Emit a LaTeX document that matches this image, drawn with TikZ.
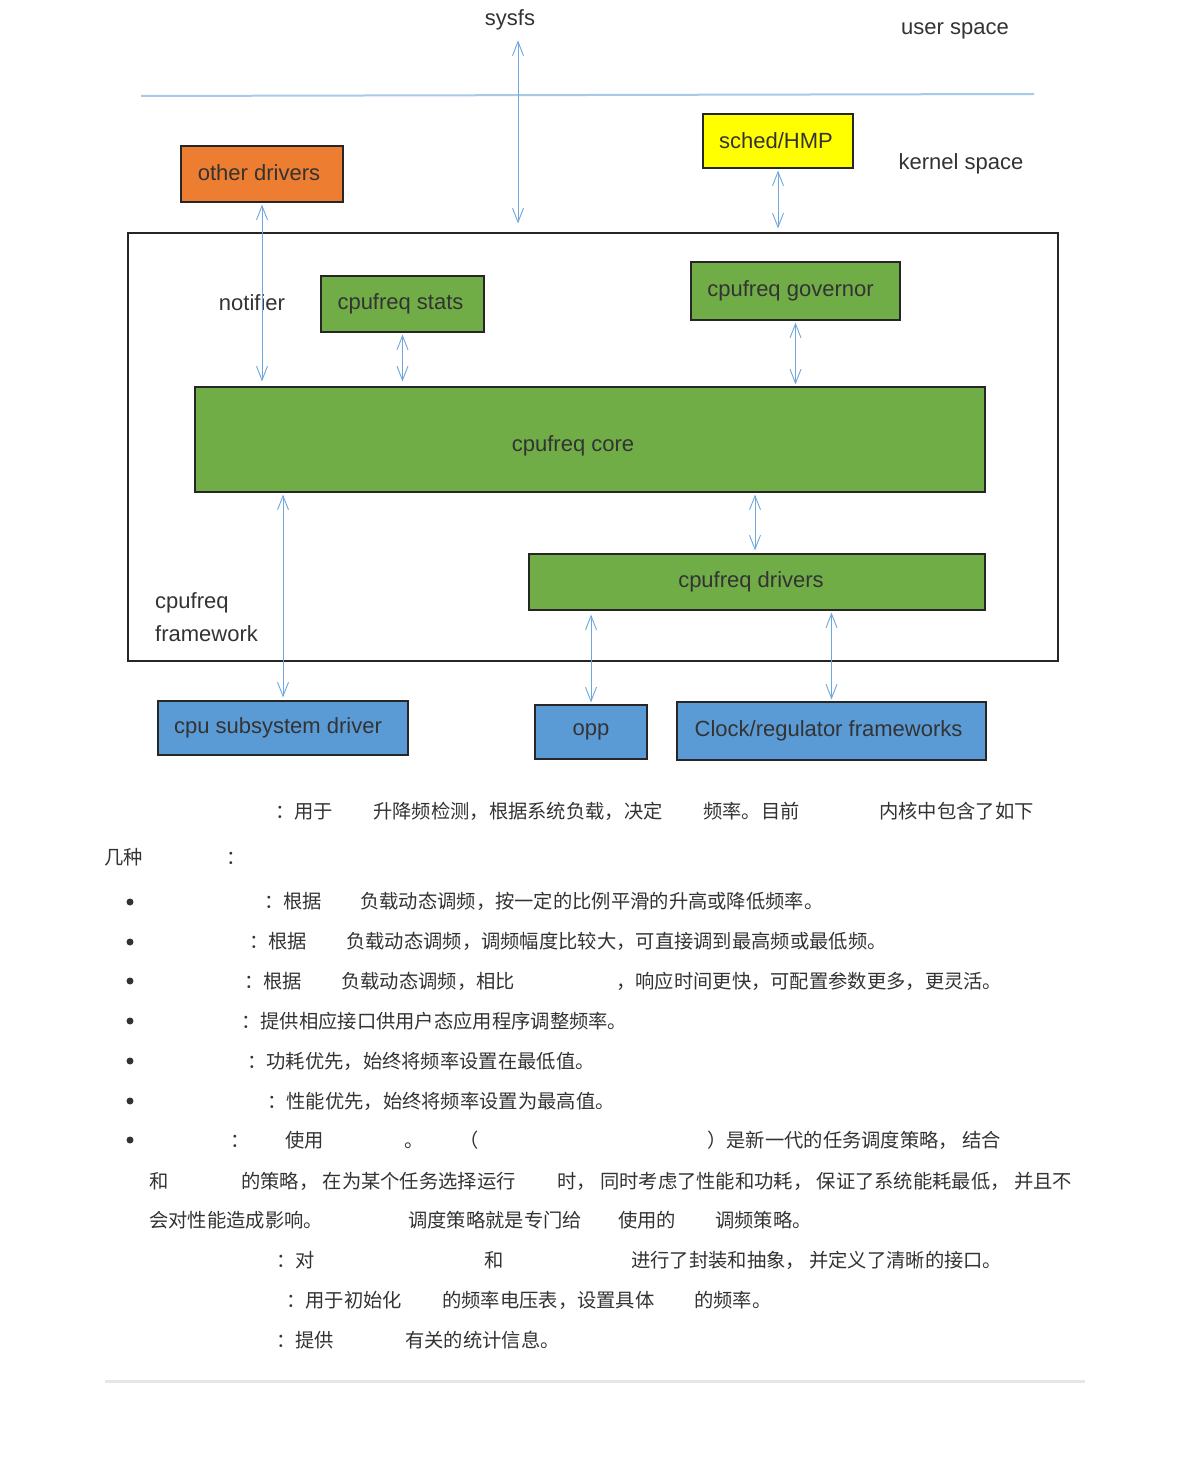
\documentclass[tikz,border=0pt]{standalone}
\usepackage{fontspec}
\setmainfont{Liberation Sans}
\newfontfamily\cjkfont{Noto Sans CJK SC}
\usetikzlibrary{arrows.meta}
\definecolor{textc}{HTML}{333333}
\definecolor{arrowc}{HTML}{6FA6DC}
\definecolor{sepc}{HTML}{A9C9EA}
\definecolor{greenc}{HTML}{70AD47}
\definecolor{bluec}{HTML}{5B9BD5}
\definecolor{orangec}{HTML}{ED7D31}
\definecolor{yellowc}{HTML}{FFFF00}
\definecolor{grayline}{HTML}{E6E6E6}
\newcommand{\diagfont}{\fontsize{22}{33}\selectfont}
\newcommand{\cnfont}{\cjkfont\fontsize{19.3}{22}\selectfont}
\tikzset{
  box/.style={draw=black!85, line width=1.2pt, inner sep=0pt, text=textc, font=\diagfont},
  lbl/.style={inner sep=0pt, text=textc, font=\diagfont},
  dbl/.style={draw=arrowc, line width=0.9pt,
    arrows={Straight Barb[length=14pt,width=11pt,line width=0.9pt]-Straight Barb[length=14pt,width=11pt,line width=0.9pt]}},
  cn/.style={anchor=base west, inner sep=0pt, text=textc, font=\cnfont},
  bul/.style={circle, fill=textc, inner sep=0pt, minimum size=7pt},
}
\begin{document}
\begin{tikzpicture}[x=1pt,y=-1pt]
\useasboundingbox (0,0) rectangle (1190,1458);
\fill[white] (0,0) rectangle (1190,1458);

% separator
\draw[sepc, line width=2pt] (141,96) -- (1034,94);

% labels
\node[lbl] (sysfs) at (510,20) {sysfs};
\node[lbl] (user) at (955,31) {user space};
\node[lbl] (kernel) at (961,164) {kernel space};

% framework box
\node[draw=black!85, line width=1.2pt, minimum width=930pt, minimum height=428pt, inner sep=0pt] (frame) at (593,447) {};

% boxes
\node[box, fill=orangec, minimum width=162pt, minimum height=56pt] (other) at (262,174) {\raisebox{2pt}{other drivers}\hspace*{6pt}};
\node[box, fill=yellowc, minimum width=150pt, minimum height=54pt] (sched) at (778,141) {sched/HMP\hspace*{4pt}};
\node[box, fill=greenc, minimum width=163pt, minimum height=56pt] (stats) at (402.5,304) {cpufreq stats\hspace*{4pt}};
\node[box, fill=greenc, minimum width=209pt, minimum height=58pt] (gov) at (795.5,291) {cpufreq governor\hspace*{10pt}};
\node[box, fill=greenc, minimum width=790pt, minimum height=105pt] (core) at (590,439.5) {};
\node[lbl] (coretxt) at (573,446) {cpufreq core};
\node[box, fill=greenc, minimum width=456pt, minimum height=56pt] (drivers) at (757,582) {cpufreq drivers\hspace*{12pt}};
\node[box, fill=bluec, minimum width=250pt, minimum height=54pt] (cpusub) at (283,728) {cpu subsystem driver\hspace*{10pt}};
\node[box, fill=bluec, minimum width=112pt, minimum height=54pt] (opp) at (591,732) {opp};
\node[box, fill=bluec, minimum width=309pt, minimum height=58pt] (clock) at (831.5,731) {Clock/regulator frameworks\hspace*{6pt}};

\node[lbl] (notifier) at (252,303) {notifier};
\node[lbl, anchor=west, align=left] (fw) at (155,617) {cpufreq\\framework};

% connectors
\draw[dbl, shorten <=10pt, shorten >=9pt] ([xshift=8pt]sysfs.south) -- ([xshift=8pt]sysfs.south |- frame.north);
\draw[dbl, shorten <=2pt, shorten >=4pt] (sched.south) -- (sched.south |- frame.north);
\draw[dbl, shorten <=2pt, shorten >=5pt] (other.south) -- (other.south |- core.north);
\draw[dbl, shorten <=2pt, shorten >=5pt] (stats.south) -- (stats.south |- core.north);
\draw[dbl, shorten <=2pt, shorten >=2pt] (gov.south) -- (gov.south |- core.north);
\draw[dbl, shorten <=2pt, shorten >=3pt] (cpusub.north |- core.south) -- (cpusub.north);
\draw[dbl, shorten <=2pt, shorten >=3pt] ([xshift=-2pt]drivers.north |- core.south) -- ([xshift=-2pt]drivers.north);
\draw[dbl, shorten <=4pt, shorten >=2pt] (opp.north |- drivers.south) -- (opp.north);
\draw[dbl, shorten <=2pt, shorten >=2pt] (clock.north |- drivers.south) -- (clock.north);

% text below
\node[cn] (t1a) at (275,818) {：用于};
\node[cn] (t1b) at (373,818) {升降频检测，根据系统负载，决定};
\node[cn] (t1c) at (703,818) {频率。目前};
\node[cn] (t1d) at (879,818) {内核中包含了如下};
\node[cn] (t2a) at (104,864) {几种};
\node[cn] (t2b) at (226,864) {：};

\node[bul] (b1) at (130,902) {};
\node[bul] (b2) at (130,942) {};
\node[bul] (b3) at (130,981) {};
\node[bul] (b4) at (130,1021) {};
\node[bul] (b5) at (130,1061) {};
\node[bul] (b6) at (130,1101) {};
\node[bul] (b7) at (130,1140) {};

\node[cn] (t3a) at (264,908) {：根据};
\node[cn] (t3b) at (360,908) {负载动态调频，按一定的比例平滑的升高或降低频率。};
\node[cn] (t4a) at (249,948) {：根据};
\node[cn] (t4b) at (346,948) {负载动态调频，调频幅度比较大，可直接调到最高频或最低频。};
\node[cn] (t5a) at (244,988) {：根据};
\node[cn] (t5b) at (341,988) {负载动态调频，相比};
\node[cn] (t5c) at (616,988) {，响应时间更快，可配置参数更多，更灵活。};
\node[cn] (t6a) at (241,1028) {：提供相应接口供用户态应用程序调整频率。};
\node[cn] (t7a) at (247,1068) {：功耗优先，始终将频率设置在最低值。};
\node[cn] (t8a) at (267,1108) {：性能优先，始终将频率设置为最高值。};
\node[cn] (t9a) at (230,1147) {：};
\node[cn] (t9b) at (285,1147) {使用};
\node[cn] (t9c) at (404,1147) {。};
\node[cn] (t9d) at (459,1147) {（};
\node[cn] (t9e) at (707,1147) {）是新一代的任务调度策略， 结合};
\node[cn] (t10a) at (149,1188) {和};
\node[cn] (t10b) at (241,1188) {的策略， 在为某个任务选择运行};
\node[cn] (t10c) at (557,1188) {时， 同时考虑了性能和功耗， 保证了系统能耗最低， 并且不};
\node[cn] (t11a) at (149,1227) {会对性能造成影响。};
\node[cn] (t11b) at (408,1227) {调度策略就是专门给};
\node[cn] (t11c) at (618,1227) {使用的};
\node[cn] (t11d) at (715,1227) {调频策略。};
\node[cn] (t12a) at (276,1267) {：对};
\node[cn] (t12b) at (484,1267) {和};
\node[cn] (t12c) at (631,1267) {进行了封装和抽象， 并定义了清晰的接口。};
\node[cn] (t13a) at (286,1307) {：用于初始化};
\node[cn] (t13b) at (442,1307) {的频率电压表，设置具体};
\node[cn] (t13c) at (694,1307) {的频率。};
\node[cn] (t14a) at (276,1347) {：提供};
\node[cn] (t14b) at (405,1347) {有关的统计信息。};

\draw[grayline, line width=3pt] (105,1381) -- (1085,1381);
\end{tikzpicture}
\end{document}
